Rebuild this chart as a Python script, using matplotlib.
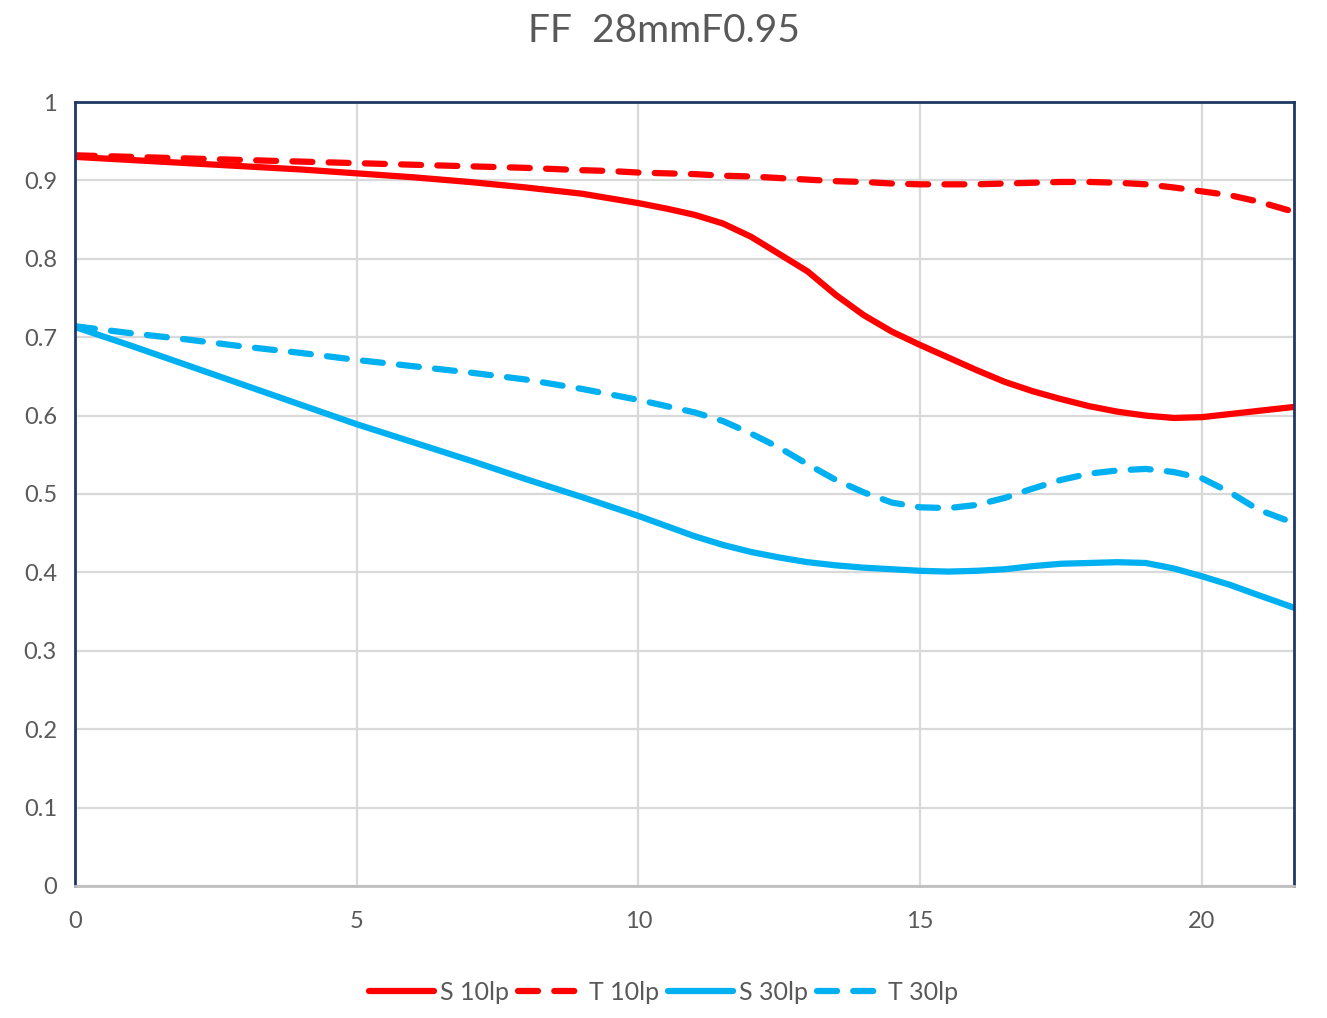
import matplotlib
matplotlib.use("Agg")
import matplotlib.pyplot as plt

title = "FF  28mmF0.95"
x = [0, 1, 2, 3, 4, 5, 6, 7, 8, 9, 9.5, 10, 10.5, 11, 11.5, 12, 12.5, 13, 13.5, 14, 14.5,
     15, 15.5, 16, 16.5, 17, 17.5, 18, 18.5, 19, 19.5, 20, 20.5, 21, 21.63]
s10 = [0.930, 0.926, 0.922, 0.918, 0.914, 0.909, 0.904, 0.898, 0.891, 0.883, 0.877, 0.871, 0.864,
       0.856, 0.845, 0.828, 0.806, 0.784, 0.754, 0.728, 0.707, 0.690, 0.674, 0.658, 0.643, 0.631,
       0.621, 0.612, 0.605, 0.600, 0.597, 0.598, 0.602, 0.606, 0.611]
t10 = [0.932, 0.930, 0.928, 0.926, 0.924, 0.922, 0.920, 0.918, 0.916, 0.913, 0.912, 0.910, 0.909,
       0.908, 0.906, 0.905, 0.903, 0.901, 0.899, 0.898, 0.896, 0.895, 0.895, 0.895, 0.896, 0.897,
       0.898, 0.898, 0.897, 0.895, 0.891, 0.886, 0.881, 0.873, 0.860]
s30 = [0.713, 0.689, 0.664, 0.639, 0.614, 0.589, 0.566, 0.543, 0.519, 0.496, 0.484, 0.472, 0.459,
       0.446, 0.435, 0.426, 0.419, 0.413, 0.409, 0.406, 0.404, 0.402, 0.401, 0.402, 0.404, 0.408,
       0.411, 0.412, 0.413, 0.412, 0.405, 0.395, 0.384, 0.371, 0.355]
t30 = [0.714, 0.705, 0.697, 0.688, 0.680, 0.671, 0.663, 0.655, 0.646, 0.634, 0.627, 0.620, 0.612,
       0.604, 0.593, 0.577, 0.559, 0.538, 0.518, 0.502, 0.489, 0.483, 0.482, 0.486, 0.495, 0.507,
       0.518, 0.526, 0.530, 0.532, 0.528, 0.520, 0.502, 0.480, 0.463]
labels = ["S 10lp", "T 10lp", "S 30lp", "T 30lp"]
xticks = [0, 5, 10, 15, 20]
yticks = [0, 0.1, 0.2, 0.3, 0.4, 0.5, 0.6, 0.7, 0.8, 0.9, 1]
ytick_labels = ["0", "0.1", "0.2", "0.3", "0.4", "0.5", "0.6", "0.7", "0.8", "0.9", "1"]

plt.rcParams['font.family'] = ['Lato', 'DejaVu Sans']
red = "#ff0000"
blue = "#00b0f0"
navy = "#1f3864"
grey_txt = "#595959"

fig = plt.figure(figsize=(13.27, 10.18), dpi=100)
ax = fig.add_axes([0.0565, 0.1297, 0.9185, 0.7701])

lw = 4.5
dash = (3.2, 2.6)
ax.plot(x, s10, color=red, lw=lw, solid_capstyle='round', solid_joinstyle='round', label=labels[0])
ax.plot(x, t10, color=red, lw=lw, dashes=dash, dash_capstyle='round', label=labels[1])
ax.plot(x, s30, color=blue, lw=lw, solid_capstyle='round', solid_joinstyle='round', label=labels[2])
ax.plot(x, t30, color=blue, lw=lw, dashes=dash, dash_capstyle='round', label=labels[3])

ax.set_xlim(0, 21.63)
ax.set_ylim(0, 1)
ax.set_xticks(xticks)
ax.set_xticklabels([str(v) for v in xticks])
ax.set_yticks(yticks)
ax.set_yticklabels(ytick_labels)
ax.grid(True, color="#d9d9d9", lw=1.6)
ax.set_axisbelow(True)
ax.tick_params(length=0, labelsize=17, colors=grey_txt)
ax.tick_params(axis='y', pad=13)
ax.tick_params(axis='x', pad=18)
for s in ['top', 'left', 'right']:
    ax.spines[s].set_color(navy)
    ax.spines[s].set_linewidth(2.0)
ax.spines['bottom'].set_color("#bfbfbf")
ax.spines['bottom'].set_linewidth(2.0)

fig.text(0.5, 0.970, title, ha='center', va='center', fontsize=28, color=grey_txt)
leg = fig.legend(loc='center', bbox_to_anchor=(0.5, 0.025), ncol=4, frameon=False,
                 fontsize=18, handlelength=2.6, handletextpad=0.25, columnspacing=0.35,
                 labelcolor=grey_txt)
fig.savefig("out.png", dpi=100, facecolor="white")
